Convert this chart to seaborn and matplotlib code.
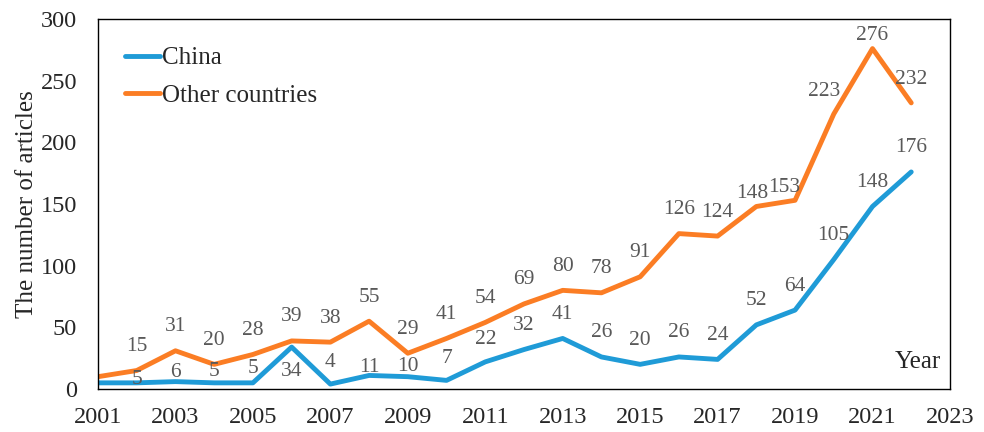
import matplotlib
matplotlib.use("Agg")
import matplotlib.pyplot as plt
import seaborn as sns
import pandas as pd

years = list(range(2001, 2023))
china = [5, 5, 6, 5, 5, 34, 4, 11, 10, 7, 22, 32, 41, 26, 20, 26, 24, 52, 64, 105, 148, 176]
others = [10, 15, 31, 20, 28, 39, 38, 55, 29, 41, 54, 69, 80, 78, 91, 126, 124, 148, 153, 223, 276, 232]
series_names = ["China", "Other countries"]
xticks = list(range(2001, 2024, 2))
yticks = list(range(0, 301, 50))

# label offsets in pixels (dx, dy), dy negative = above point; None = no label
china_off = [None, (0, -3), (0, -9), (0, -11), (0, -14), (0, 24), (0, -22), (0, -8), (0, -10),
             (0, -22), (0, -22), (0, -24), (0, -24), (0, -24), (0, -24), (0, -24), (0, -24),
             (0, -24), (0, -24), (0, -24), (0, -24), (0, -24)]
others_off = [None] + [(0, -24)] * 16 + [(-4, -13), (-11, -13), (-10, -22), (0, -13), (0, -23)]

sns.set_style("white")
plt.rcParams["font.family"] = ["Liberation Serif", "DejaVu Serif"]

df = pd.DataFrame({
    "Year": years * 2,
    "Articles": china + others,
    "Series": [series_names[0]] * len(years) + [series_names[1]] * len(years),
})

colors = {"China": "#1f9bd7", "Other countries": "#fb7d24"}

fig = plt.figure(figsize=(9.84, 4.32), dpi=100)
ax = fig.add_axes([0.0996, 0.0995, 0.8658, 0.8565])
sns.lineplot(data=df, x="Year", y="Articles", hue="Series", palette=colors,
             linewidth=3.5, ax=ax, legend=True)

ax.set_xlim(2001, 2023)
ax.set_ylim(0, 300)
ax.set_xticks(xticks)
ax.set_yticks(yticks)
ax.tick_params(axis="both", length=0, labelsize=17.5)
ax.tick_params(axis="x", pad=13)
ax.tick_params(axis="y", pad=15)
for s in ax.spines.values():
    s.set_color("black")
    s.set_linewidth(1.0)

ax.set_xlabel("")
ax.set_ylabel("The number of articles", fontsize=18, labelpad=2)
ax.text(0.99, 0.072, "Year", transform=ax.transAxes, ha="right", va="center", fontsize=18)

label_color = "#595959"
for vals, offs in ((china, china_off), (others, others_off)):
    for x, v, o in zip(years, vals, offs):
        if o is None:
            continue
        ax.annotate(str(v), (x, v), xytext=(o[0] * 0.72, -o[1] * 0.72),
                    textcoords="offset points", ha="center", va="center",
                    fontsize=15.5, color=label_color)

leg = ax.legend(loc="upper left", bbox_to_anchor=(-0.004, 1.006), frameon=False,
                fontsize=18, handlelength=1.4, handletextpad=0.1, labelspacing=0.6,
                borderaxespad=0.8)
for line in leg.get_lines():
    line.set_linewidth(3.5)

fig.savefig("out.png", dpi=100)
